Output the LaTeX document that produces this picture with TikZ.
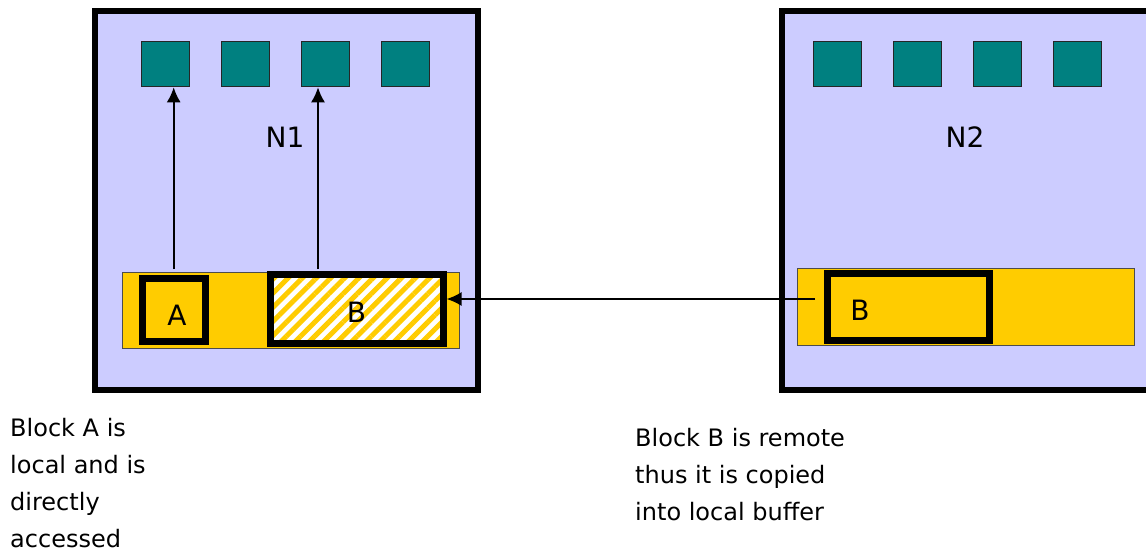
\documentclass[tikz,border=0pt]{standalone}
\usepackage{fontspec}
\setmainfont{DejaVu Sans}
\usetikzlibrary{arrows.meta,patterns.meta}
\definecolor{nodebg}{HTML}{CCCCFF}
\definecolor{cpu}{HTML}{008080}
\definecolor{buf}{HTML}{FFCC00}
\tikzset{
  nodebox/.style={draw=black, line width=6pt, fill=nodebg, minimum width=383.5pt, minimum height=379pt, inner sep=0pt},
  cpubox/.style={draw=black!85, line width=1.5pt, fill=cpu, minimum width=48pt, minimum height=45pt, inner sep=0pt},
  bufbar/.style={draw=black!70, line width=1pt, fill=buf, inner sep=0pt},
  blk/.style={draw=black, line width=7pt, inner sep=0pt},
  lbl/.style={font=\fontsize{28}{32}\selectfont, inner sep=0pt},
  note/.style={font=\fontsize{24}{37}\selectfont, align=left, inner sep=0pt, anchor=base west},
  link/.style={line width=2pt, -{Latex[length=15pt,width=14pt]}}
}
\begin{document}
\begin{tikzpicture}[x=1pt,y=-1pt]
\useasboundingbox (0,0) rectangle (1146,552);
\begin{scope}
\clip (0,0) rectangle (1146,552);

% compute node N1
\node[nodebox] (N1) at (286.25,200.5) {};
\foreach \i/\x in {1/165.5,2/245.5,3/325.5,4/405.5}
  \node[cpubox] (p1\i) at (\x,64) {};
\node[lbl] (n1lbl) at (285,137) {N1};
\node[bufbar, minimum width=336.5pt, minimum height=76.5pt] (buf1) at (290.75,310.25) {};
\node[blk, fill=buf, minimum width=63.5pt, minimum height=63.5pt] (A) at (173.75,309.75) {};
\node[lbl] (Albl) at (177,315) {A};
\node[blk, fill=white, minimum width=173pt, minimum height=68.5pt,
      postaction={pattern={Lines[angle=45,distance=10pt,line width=5pt]}, pattern color=buf}] (B1) at (356.5,308.75) {};
\node[blk, minimum width=173pt, minimum height=68.5pt] (B1frame) at (356.5,308.75) {};
\node[lbl] (B1lbl) at (356.5,312.5) {B};

% compute node N2
\node[nodebox] (N2) at (974,200.5) {};
\foreach \i/\x in {1/837.5,2/917.5,3/997.5,4/1077.5}
  \node[cpubox] (p2\i) at (\x,64) {};
\node[lbl] (n2lbl) at (965,137) {N2};
\node[bufbar, minimum width=337pt, minimum height=77pt] (buf2) at (965.5,306.5) {};
\node[blk, fill=buf, minimum width=162.5pt, minimum height=67.5pt] (B2) at (908.25,306.75) {};
\node[lbl] (B2lbl) at (860,310) {B};
\end{scope}

% direct accesses from the local buffer
\coordinate (atap) at (173.7,269);
\coordinate (btap) at (318,269);
\draw[link] (atap) -- (atap |- p11.south);
\draw[link] (btap) -- (btap |- p13.south);

% remote copy of block B
\coordinate (src) at (815,299);
\draw[link] (src) -- (src -| B1frame.east);

% notes (a multi-line node sits on the baseline of its last line)
\node[note] (noteA) at (10,547) {Block A is\\local and is\\directly\\accessed};
\node[note] (noteB) at (635,520) {Block B is remote\\thus it is copied\\into local buffer};
\end{tikzpicture}
\end{document}
